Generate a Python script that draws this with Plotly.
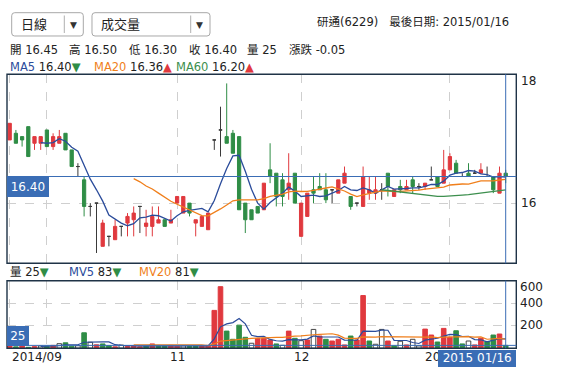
import plotly.graph_objects as go
import pandas as pd

W, H = 571, 386

# ---------------- data ----------------
opens = [16.95, 17.05, 17.00, 17.15, 16.90, 16.90, 17.10, 16.85, 16.90, 17.05,
         16.80, 16.55, 16.35, 15.95, 16.00, 15.35, 15.50, 15.45, 15.65, 15.70,
         15.75, 15.95, 15.65, 15.65, 15.70, 15.75, 15.70, 16.00, 15.85, 16.00,
         15.70, 15.65, 15.60, 16.95, 17.10, 17.00, 17.05, 17.00, 16.00, 15.90,
         15.95, 15.90, 16.50, 16.45, 16.35, 16.20, 16.45, 15.50, 15.80, 16.20,
         16.25, 16.20, 16.20, 16.15, 16.30, 16.10, 16.00, 15.95, 16.15, 16.15,
         16.20, 16.45, 16.10, 16.25, 16.20, 16.35, 16.25, 16.25, 16.35, 16.40,
         16.30, 16.50, 16.60, 16.40, 16.45, 16.45, 16.45, 16.40, 16.40, 16.15,
         16.45]
highs = [17.20, 17.10, 17.00, 17.15, 17.00, 17.00, 17.10, 17.05, 17.10, 17.05,
         16.80, 16.60, 16.40, 16.00, 16.00, 15.75, 15.50, 15.75, 15.65, 15.85,
         15.95, 15.95, 15.90, 15.95, 15.95, 15.75, 15.90, 16.10, 16.10, 16.00,
         15.75, 15.80, 15.85, 16.95, 17.45, 17.80, 17.10, 17.00, 16.00, 15.90,
         15.95, 16.30, 16.90, 16.45, 16.45, 16.75, 16.45, 16.00, 16.15, 16.40,
         16.45, 16.45, 16.20, 16.35, 16.55, 16.10, 16.00, 16.55, 16.40, 16.40,
         16.30, 16.45, 16.20, 16.35, 16.35, 16.40, 16.30, 16.30, 16.55, 16.40,
         16.80, 16.75, 16.65, 16.45, 16.60, 16.50, 16.60, 16.55, 16.40, 16.55,
         16.50]
lows = [16.95, 16.90, 16.85, 16.70, 16.80, 16.80, 16.85, 16.80, 16.90, 16.80,
        16.55, 16.40, 15.80, 15.80, 15.25, 15.35, 15.35, 15.45, 15.50, 15.50,
        15.50, 15.55, 15.50, 15.50, 15.70, 15.65, 15.70, 16.00, 15.85, 15.80,
        15.50, 15.65, 15.60, 16.80, 16.70, 16.90, 16.75, 15.90, 15.55, 15.75,
        15.85, 15.90, 16.30, 15.95, 15.95, 16.05, 16.00, 15.50, 15.80, 16.00,
        16.20, 16.00, 16.00, 16.15, 16.30, 15.90, 15.95, 15.95, 16.05, 16.05,
        16.05, 16.10, 16.10, 16.15, 16.20, 16.15, 16.20, 16.20, 16.35, 16.25,
        16.30, 16.50, 16.45, 16.40, 16.40, 16.45, 16.45, 16.40, 16.15, 16.15,
        16.30]
closes = [17.20, 16.90, 16.95, 16.70, 17.00, 17.00, 16.85, 17.00, 17.00, 16.80,
          16.55, 16.55, 15.95, 15.95, 16.00, 15.70, 15.50, 15.65, 15.65, 15.80,
          15.85, 15.95, 15.70, 15.80, 15.75, 15.65, 15.75, 16.10, 16.10, 15.85,
          15.75, 15.80, 15.85, 16.95, 17.10, 16.90, 16.75, 15.90, 15.75, 15.75,
          15.85, 16.30, 16.40, 16.10, 16.10, 16.30, 16.00, 16.00, 16.15, 16.15,
          16.20, 16.05, 16.20, 16.35, 16.45, 15.95, 16.00, 16.40, 16.20, 16.20,
          16.20, 16.25, 16.20, 16.20, 16.25, 16.25, 16.25, 16.30, 16.35, 16.25,
          16.50, 16.70, 16.45, 16.40, 16.40, 16.45, 16.50, 16.40, 16.20, 16.45,
          16.40]
volumes = [30, 12, 28, 8, 14, 20, 18, 25, 40, 48,
           18, 22, 137, 53, 30, 38, 22, 12, 28, 15,
           20, 12, 18, 38, 22, 20, 25, 18, 22, 15,
           20, 22, 25, 336, 547, 152, 79, 205, 97, 44,
           88, 88, 73, 38, 26, 152, 88, 67, 73, 167,
           108, 79, 64, 79, 29, 108, 73, 468, 64, 35,
           167, 64, 20, 62, 29, 79, 20, 170, 117, 55,
           176, 97, 155, 38, 64, 29, 88, 60, 117, 126,
           25]
month_tick_idx = [0, 6, 27, 47, 71]
month_tick_text = ["2014/09", "", "11", "12", "2015/01"]
price_ticks = [16, 18]
volume_ticks = [200, 400, 600]
last_date = "2015 01/16"

# ---------------- style ----------------
FONT = "DejaVu Sans, Noto Sans CJK TC, sans-serif"
FS = 11.5
RED = "#e0393e"
GREEN = "#2f8d46"
DOJI = "#3a3a3a"
BLUE = "#3a6db5"
NAVY = "#1f3347"
MA5C = "#2b4c9b"
MA20C = "#f07f1b"
MA60C = "#3d8f4e"
GRID = "#cfcfcf"

n = len(closes)
idx = list(range(n))

def px(x):
    return x / W

def py(y):
    return 1 - y / H

fig = go.Figure()

def add_candles(sel, color):
    fig.add_trace(go.Candlestick(
        x=sel,
        open=[opens[i] for i in sel], high=[highs[i] for i in sel],
        low=[lows[i] for i in sel], close=[closes[i] for i in sel],
        increasing=dict(line=dict(color=color, width=1), fillcolor=color),
        decreasing=dict(line=dict(color=color, width=1), fillcolor=color),
        hoverinfo="none", xaxis="x", yaxis="y"))

add_candles([i for i in idx if closes[i] > opens[i]], RED)
add_candles([i for i in idx if closes[i] < opens[i]], GREEN)
add_candles([i for i in idx if closes[i] == opens[i]], DOJI)

cs = pd.Series(closes)
for win, col in [(5, MA5C), (20, MA20C), (60, MA60C)]:
    ma = cs.rolling(win).mean()
    ma[:win] = None
    fig.add_trace(go.Scatter(x=idx, y=ma, mode="lines", line=dict(color=col, width=1.3),
                             hoverinfo="none", xaxis="x", yaxis="y"))

# volume bars: colour by change vs previous close
vcol, vline = [], []
for i in idx:
    if i == 0 or closes[i] > closes[i - 1]:
        vcol.append(RED); vline.append(RED)
    elif closes[i] < closes[i - 1]:
        vcol.append(GREEN); vline.append(GREEN)
    else:
        vcol.append("white"); vline.append("#444444")
fig.add_trace(go.Bar(x=idx, y=volumes, width=0.74,
                     marker=dict(color=vcol, line=dict(color=vline, width=1)),
                     hoverinfo="none", xaxis="x2", yaxis="y2"))
vs = pd.Series(volumes, dtype=float)
for win, col in [(5, MA5C), (20, MA20C)]:
    mv = vs.rolling(win).mean()
    mv[:win] = None
    fig.add_trace(go.Scatter(x=idx, y=mv, mode="lines", line=dict(color=col, width=1.2),
                             hoverinfo="none", xaxis="x2", yaxis="y2"))

XL, XR = 7.0, 516.3
P_TOP, P_BOT = 74.3, 263.3
V_TOP, V_BOT = 280.7, 348.2
X0 = -0.435
X1 = 81.71
common_x = dict(domain=[px(XL), px(XR)], range=[X0, X1], tickmode="array",
                tickvals=month_tick_idx, showticklabels=False, showgrid=True,
                gridcolor=GRID, griddash="dash", gridwidth=1, zeroline=False,
                showline=False, ticks="", fixedrange=True)
fig.update_layout(
    width=W, height=H, margin=dict(l=0, r=0, t=0, b=0),
    paper_bgcolor="white", plot_bgcolor="white", showlegend=False,
    font=dict(family=FONT, size=FS, color="#222"),
    xaxis=dict(anchor="y", rangeslider=dict(visible=False), **common_x),
    xaxis2=dict(anchor="y2", **common_x),
    yaxis=dict(domain=[py(P_BOT), py(P_TOP)], range=[15.095, 17.937], tickvals=[16],
               showticklabels=False, showgrid=True, gridcolor=GRID, griddash="dash",
               zeroline=False, ticks="", fixedrange=True),
    yaxis2=dict(domain=[py(V_BOT), py(V_TOP)], range=[0, 600], tickvals=[200, 400],
                showticklabels=False, showgrid=True, gridcolor=GRID, griddash="dash",
                zeroline=False, ticks="", fixedrange=True),
    boxgap=0.25,
)

shapes = []
for t, b in [(P_TOP, P_BOT), (V_TOP, V_BOT)]:
    shapes.append(dict(type="rect", xref="paper", yref="paper", x0=px(XL), x1=px(XR),
                       y0=py(b), y1=py(t), line=dict(color=NAVY, width=1.4), layer="above"))
shapes.append(dict(type="line", xref="paper", yref="y", x0=px(XL), x1=px(XR),
                   y0=closes[-1], y1=closes[-1], line=dict(color=BLUE, width=1), layer="above"))
shapes.append(dict(type="line", xref="paper", yref="y2", x0=px(XL), x1=px(XR),
                   y0=volumes[-1], y1=volumes[-1], line=dict(color=BLUE, width=1), layer="above"))
for yr in ["y", "y2"]:
    shapes.append(dict(type="line", xref="x", yref=f"{yr} domain", x0=n - 1, x1=n - 1,
                       y0=0, y1=1, line=dict(color=BLUE, width=1), layer="above"))

def rrect(x0, y0, x1, y1, r=3):
    def P(x, y):
        return f"{px(x):.5f},{py(y):.5f}"
    return ("M " + P(x0 + r, y0) + " L " + P(x1 - r, y0) + " Q " + P(x1, y0) + " " + P(x1, y0 + r) +
            " L " + P(x1, y1 - r) + " Q " + P(x1, y1) + " " + P(x1 - r, y1) +
            " L " + P(x0 + r, y1) + " Q " + P(x0, y1) + " " + P(x0, y1 - r) +
            " L " + P(x0, y0 + r) + " Q " + P(x0, y0) + " " + P(x0 + r, y0) + " Z")

for (bx0, bx1, dv) in [(11.7, 83.3, 64.3), (92, 210, 190.7)]:
    shapes.append(dict(type="path", xref="paper", yref="paper", path=rrect(bx0, 12.7, bx1, 36),
                       line=dict(color="#a8a8a8", width=1), fillcolor="white"))
    shapes.append(dict(type="line", xref="paper", yref="paper", x0=px(dv), x1=px(dv),
                       y0=py(15.5), y1=py(33), line=dict(color="#b0b0b0", width=1)))
fig.update_layout(shapes=shapes)

ann = []
def text(x, y, s, size=FS, color="#222", anchor="left", **kw):
    ann.append(dict(x=px(x), y=py(y), xref="paper", yref="paper", text=s, showarrow=False,
                    xanchor=anchor, yanchor="middle", font=dict(size=size, color=color, family=FONT), **kw))

text(19, 24.5, "日線", size=13)
text(73.5, 24.5, "▼", size=9, color="#333", anchor="center")
text(99, 24.5, "成交量", size=13)
text(199.5, 24.5, "▼", size=9, color="#333", anchor="center")
text(511, 21.7, "研通(6229)\u00a0\u00a0\u00a0最後日期: 2015/01/16", anchor="right")

row2 = [(8, "開 16.45"), (66.7, "高 16.50"), (126.7, "低 16.30"), (186.7, "收 16.40"),
        (245, "量 25"), (286.7, "漲跌 -0.05")]
for x, s in row2:
    text(x, 50, s)

DN = f"<span style='color:{GREEN}'>▼</span>"
UP = f"<span style='color:{RED}'>▲</span>"
text(8, 66.7, f"<span style='color:{MA5C}'>MA5</span> 16.40{DN}")
text(91.7, 66.7, f"<span style='color:{MA20C}'>MA20</span> 16.36{UP}")
text(173.5, 66.7, f"<span style='color:{MA60C}'>MA60</span> 16.20{UP}")

text(8, 272.3, f"量 25{DN}")
text(66.7, 272.3, f"<span style='color:{MA5C}'>MV5</span> 83{DN}")
text(137.3, 272.3, f"<span style='color:{MA20C}'>MV20</span> 81{DN}")

text(519.3, 80.7, str(price_ticks[1]), size=12)
text(519.3, 202.7, str(price_ticks[0]), size=12)
text(518.3, 286.7, str(volume_ticks[2]), size=12)
text(518.3, 302.7, str(volume_ticks[1]), size=12)
text(518.3, 325.3, str(volume_ticks[0]), size=12)

def xpix(i):
    return XL + (i - X0) * (XR - XL) / (X1 - X0)

text(10, 357.3, month_tick_text[0], size=12)
for k in [2, 3, 4]:
    text(xpix(month_tick_idx[k]), 357.3, month_tick_text[k], size=12, anchor="center")

def box(x0, y0, w, h, s):
    ann.append(dict(x=px(x0), y=py(y0), xref="paper", yref="paper", text=s, showarrow=False,
                    xanchor="left", yanchor="top", width=w, height=h, bgcolor=BLUE,
                    borderpad=0, borderwidth=0, font=dict(size=12, color="white", family=FONT)))

box(7.3, 176.7, 41.7, 20, f"{closes[-1]:.2f}")
box(7.3, 326, 21.7, 19.7, str(volumes[-1]))
box(438.3, 350, 78.4, 16.7, last_date)

fig.update_layout(annotations=ann)
fig.write_html("out.html", config={"displayModeBar": False},
               post_script="document.body.style.margin='0px';")
